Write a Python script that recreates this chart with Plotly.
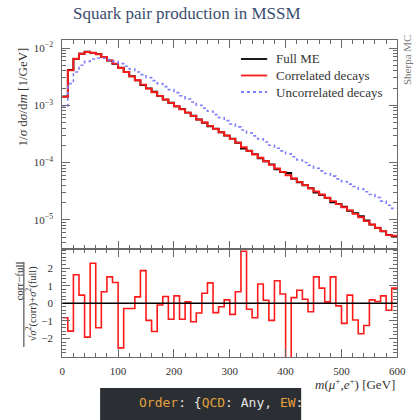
import plotly.graph_objects as go

W, H = 417, 420

# ---------------- data ----------------
bin_edges = list(range(0, 610, 10))  # m(mu+, e+) in GeV, 10 GeV bins

correlated = [1.40e-3, 4.07e-3, 6.51e-3, 7.96e-3, 8.51e-3, 8.29e-3, 7.76e-3, 6.97e-3, 6.09e-3, 5.33e-3,
              4.48e-3, 3.81e-3, 3.20e-3, 2.73e-3, 2.29e-3, 1.95e-3, 1.69e-3, 1.46e-3, 1.26e-3, 1.10e-3,
              9.61e-4, 8.51e-4, 7.45e-4, 6.52e-4, 5.62e-4, 4.99e-4, 4.36e-4, 3.87e-4, 3.38e-4, 2.96e-4,
              2.59e-4, 2.23e-4, 1.85e-4, 1.60e-4, 1.38e-4, 1.21e-4, 1.05e-4, 9.10e-5, 7.85e-5, 6.87e-5,
              6.01e-5, 5.26e-5, 4.60e-5, 4.03e-5, 3.52e-5, 3.12e-5, 2.76e-5, 2.42e-5, 2.12e-5, 1.88e-5,
              1.66e-5, 1.46e-5, 1.27e-5, 1.11e-5, 9.48e-6, 8.30e-6, 7.25e-6, 6.34e-6, 5.40e-6, 5.26e-6]

full_me = [1.42e-3, 4.12e-3, 6.45e-3, 7.93e-3, 8.58e-3, 8.21e-3, 7.82e-3, 6.94e-3, 6.03e-3, 5.29e-3,
           4.55e-3, 3.82e-3, 3.21e-3, 2.72e-3, 2.26e-3, 1.97e-3, 1.72e-3, 1.46e-3, 1.255e-3, 1.11e-3,
           9.56e-4, 8.60e-4, 7.44e-4, 6.60e-4, 5.66e-4, 4.95e-4, 4.28e-4, 3.91e-4, 3.39e-4, 2.95e-4,
           2.62e-4, 2.21e-4, 1.76e-4, 1.61e-4, 1.40e-4, 1.18e-4, 1.05e-4, 9.30e-5, 7.62e-5, 6.80e-5,
           6.55e-5, 5.22e-5, 4.52e-5, 4.00e-5, 3.57e-5, 3.00e-5, 2.70e-5, 2.41e-5, 2.02e-5, 1.89e-5,
           1.70e-5, 1.44e-5, 1.31e-5, 1.16e-5, 9.75e-6, 8.25e-6, 7.22e-6, 6.27e-6, 5.45e-6, 5.10e-6]

uncorrelated = [9.3e-4, 2.39e-3, 3.81e-3, 4.99e-3, 5.85e-3, 6.43e-3, 6.70e-3, 6.61e-3, 6.26e-3, 5.85e-3,
                5.33e-3, 4.79e-3, 4.30e-3, 3.81e-3, 3.43e-3, 3.04e-3, 2.69e-3, 2.39e-3, 2.12e-3, 1.88e-3,
                1.66e-3, 1.47e-3, 1.29e-3, 1.14e-3, 1.00e-3, 8.87e-4, 7.86e-4, 6.88e-4, 6.09e-4, 5.40e-4,
                4.72e-4, 4.19e-4, 3.71e-4, 3.29e-4, 2.92e-4, 2.59e-4, 2.29e-4, 2.00e-4, 1.78e-4, 1.60e-4,
                1.42e-4, 1.26e-4, 1.11e-4, 1.00e-4, 8.98e-5, 7.96e-5, 7.16e-5, 6.43e-5, 5.78e-5, 5.19e-5,
                4.66e-5, 4.19e-5, 3.81e-5, 3.43e-5, 3.08e-5, 2.77e-5, 2.45e-5, 2.12e-5, 1.80e-5, 1.58e-5]

pull = [-0.82, -1.58, 1.62, 0.46, -1.92, 2.27, -1.39, 0.65, 1.50, 1.18,
        -2.53, -0.30, -0.30, 0.36, 1.85, -0.97, -1.60, -0.10, 0.38, -0.91,
        0.42, -0.91, 0.08, -1.05, -0.55, 0.57, 1.16, -0.53, -0.20, 0.19,
        -0.63, 0.65, 2.95, -0.34, -0.82, 1.09, 0.17, -0.97, 1.28, 0.53,
        -3.60, 0.32, 0.74, 0.23, -0.48, 1.50, 0.86, 0.08, 1.50, -0.15,
        -1.14, 0.46, -0.95, -1.73, -1.26, 0.19, 0.10, 0.42, -0.40, 0.86]

series_names = ["Full ME", "Correlated decays", "Uncorrelated decays"]
series_colors = ["#000000", "#ff1a1a", "#7d7dff"]
series_dash = ["solid", "solid", "dot"]

x_ticks = [0, 100, 200, 300, 400, 500, 600]
pull_ticks = [-2, -1, 0, 1, 2]
log_ticks = [1e-5, 1e-4, 1e-3, 1e-2]
log_tick_text = ["10<sup>−5</sup>", "10<sup>−4</sup>", "10<sup>−3</sup>", "10<sup>−2</sup>"]

# ---------------- helpers ----------------
SERIF = "Liberation Serif"
AXC = "#6a6a6a"
TXT = "#333333"


def px_x(p):
    return p / W


def px_y(p):
    return 1 - p / H


def step(vals):
    return bin_edges, list(vals) + [vals[-1]]


fig = go.Figure()

for vals, name, col, dash, wd in zip([full_me, correlated, uncorrelated], series_names,
                                     series_colors, series_dash, [1.9, 1.9, 1.6]):
    xs, ys = step(vals)
    fig.add_trace(go.Scatter(x=xs, y=ys, mode="lines",
                             line=dict(shape="hv", color=col, width=wd, dash=dash),
                             name=name, showlegend=False, xaxis="x", yaxis="y"))

xs, ys = step(pull)
fig.add_trace(go.Scatter(x=xs, y=ys, mode="lines", line=dict(shape="hv", color="#ff1a1a", width=1.6),
                         showlegend=False, xaxis="x2", yaxis="y2"))

# domains (pixels)
XL, XR = 61, 406
MAIN_T, MAIN_B = 40, 249
RAT_T, RAT_B = 249, 357

axis_common = dict(showline=True, linecolor=AXC, linewidth=1, mirror="allticks", ticks="inside",
                   tickcolor=AXC, showgrid=False, zeroline=False,
                   tickfont=dict(family=SERIF, size=11, color=TXT))

minor_log = [m * 10 ** e for e in range(-6, -1) for m in range(2, 10)]

fig.update_layout(
    width=W, height=H,
    margin=dict(l=0, r=0, t=0, b=0),
    paper_bgcolor="white", plot_bgcolor="white",
    showlegend=False,
    xaxis=dict(domain=[px_x(XL), px_x(XR)], range=[0, 600], anchor="y", showticklabels=False,
               tickmode="array", tickvals=x_ticks, ticklen=8,
               minor=dict(ticks="inside", dtick=20, tick0=0, ticklen=4, tickcolor=AXC),
               **axis_common),
    yaxis=dict(domain=[px_y(MAIN_B), px_y(MAIN_T)], type="log", range=[-5.51, -1.86], anchor="x",
               tickmode="array", tickvals=log_ticks, ticktext=log_tick_text, ticklen=8,
               ticklabelstandoff=6,
               minor=dict(ticks="inside", tickmode="array", tickvals=minor_log, ticklen=4, tickcolor=AXC),
               **axis_common),
    xaxis2=dict(domain=[px_x(XL), px_x(XR)], range=[0, 600], anchor="y2", matches="x",
                tickmode="array", tickvals=x_ticks, ticklen=8, ticklabelstandoff=4,
                minor=dict(ticks="inside", dtick=20, tick0=0, ticklen=4, tickcolor=AXC),
                **axis_common),
    yaxis2=dict(domain=[px_y(RAT_B), px_y(RAT_T)], range=[-3.05, 3.08], anchor="x2",
                tickmode="array", tickvals=pull_ticks, ticklen=8, ticklabelstandoff=6,
                minor=dict(ticks="inside", dtick=0.2, tick0=0, ticklen=4, tickcolor=AXC),
                **axis_common),
)

# zero line in the ratio panel
fig.add_shape(type="line", xref="x2", yref="y2", x0=0, x1=600, y0=0, y1=0,
              line=dict(color="#000000", width=1.6))

ann = []
# legend (drawn by hand to match the reference placement)
LEG_ROWS = [59, 75.5, 92]
for name, col, dash, ry in zip(series_names, series_colors, series_dash, LEG_ROWS):
    fig.add_shape(type="line", xref="paper", yref="paper", x0=px_x(245), x1=px_x(272),
                  y0=px_y(ry), y1=px_y(ry), line=dict(color=col, width=1.8, dash=dash))
    ann.append(dict(text=name, x=px_x(279), y=px_y(ry), xref="paper", yref="paper", showarrow=False,
                    xanchor="left", yanchor="middle", font=dict(family=SERIF, size=13, color=TXT)))

# title
ann.append(dict(text="Squark pair production in MSSM", x=px_x(189), y=px_y(14), xref="paper", yref="paper",
                showarrow=False, xanchor="center", yanchor="middle",
                font=dict(family=SERIF, size=17, color="#3b4d6e")))
# main y title
ann.append(dict(text="1/<i>σ</i> d<i>σ</i>/d<i>m</i> [1/GeV]", x=px_x(20), y=px_y(97),
                xref="paper", yref="paper", showarrow=False, textangle=-90,
                xanchor="center", yanchor="middle", font=dict(family=SERIF, size=13, color=TXT)))
# ratio y title (fraction)
ann.append(dict(text="corr−full", x=px_x(16), y=px_y(281), xref="paper", yref="paper", showarrow=False,
                textangle=-90, xanchor="center", yanchor="middle", font=dict(family=SERIF, size=11, color=TXT)))
ann.append(dict(text="√<i>σ</i><sup>2</sup>(corr)+<i>σ</i><sup>2</sup>(full)", x=px_x(29), y=px_y(304),
                xref="paper", yref="paper", showarrow=False, textangle=-90,
                xanchor="center", yanchor="middle", font=dict(family=SERIF, size=10.5, color=TXT)))
# x title
ann.append(dict(text="<i>m</i>(<i>μ</i><sup>+</sup>,<i>e</i><sup>+</sup>) [GeV]", x=px_x(406), y=px_y(384),
                xref="paper", yref="paper", showarrow=False, xanchor="right", yanchor="middle",
                font=dict(family=SERIF, size=13, color=TXT)))
# Sherpa MC tag (cut by the right edge, as in the reference)
ann.append(dict(text="Sherpa MC", x=px_x(416), y=px_y(60), xref="paper", yref="paper", showarrow=False,
                textangle=-90, xanchor="center", yanchor="middle",
                font=dict(family=SERIF, size=11, color="#777777")))
# code block text
OR = "#e3a03c"
ann.append(dict(text=(f"<span style='color:{OR}'>Order</span>: {{<span style='color:{OR}'>QCD</span>: Any, "
                      f"<span style='color:{OR}'>EW</span>:"),
                x=px_x(138), y=px_y(402), xref="paper", yref="paper", showarrow=False,
                xanchor="left", yanchor="middle",
                font=dict(family="DejaVu Sans Mono", size=13, color="#e6e6e6")))
fig.update_layout(annotations=ann)

# fraction bar
fig.add_shape(type="line", xref="paper", yref="paper", x0=px_x(21.5), x1=px_x(21.5),
              y0=px_y(262), y1=px_y(347), line=dict(color=TXT, width=1))
# code block background
fig.add_shape(type="rect", xref="paper", yref="paper", x0=px_x(100), x1=px_x(307),
              y0=0, y1=px_y(388), fillcolor="#2b2e32", line=dict(width=0), layer="below")

fig.write_html("out.html")
